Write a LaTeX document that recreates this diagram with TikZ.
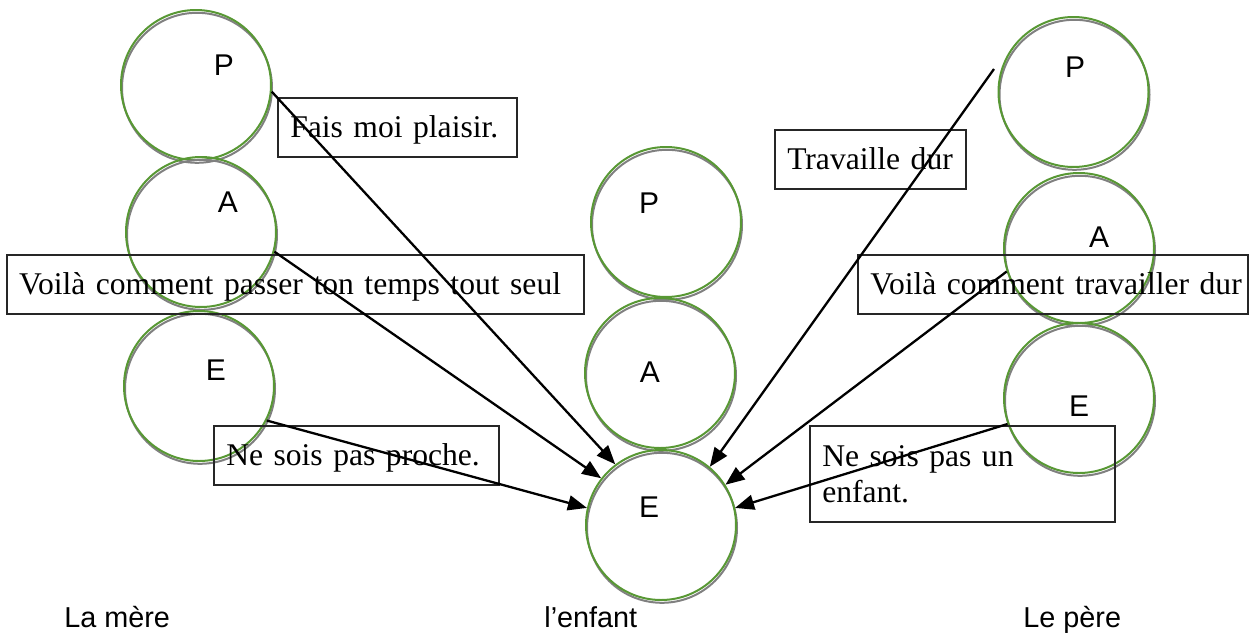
\documentclass[tikz,border=0pt]{standalone}
\usepackage{fontspec}
\setmainfont{Liberation Serif}
\newfontfamily\arialfont{Liberation Sans}
\usetikzlibrary{arrows.meta}

\definecolor{ringgreen}{RGB}{88,152,52}
\definecolor{ringgray}{RGB}{128,128,128}

\tikzset{
  ring/.style={circle, draw=ringgreen, line width=1pt, minimum size=75pt, inner sep=0pt},
  ringshadow/.style={draw=ringgray, line width=1pt},
  egoletter/.style={font=\arialfont\fontsize{15}{18}\selectfont, inner sep=0pt},
  msg/.style={draw=black!85, line width=0.75pt, anchor=north west, align=left,
    font=\fontsize{15.8}{18}\selectfont, inner xsep=6.25pt, inner ysep=0pt,
    minimum height=29.5pt, text height=10.5pt, text depth=0pt},
  who/.style={font=\arialfont\fontsize{14.4}{17}\selectfont, anchor=base west, inner sep=0pt},
  msgarrow/.style={line width=1.15pt, -{Triangle[length=9.5pt,width=7.5pt]}},
}

% ego state circle: name, centre, letter, letter position
\newcommand\egostate[4]{%
  \draw[ringshadow] (#2) ++(0.5pt,-1.4pt) circle[radius=37.5pt];
  \node[ring] (#1) at (#2) {};
  \node[egoletter] (#1-l) at (#4) {#3};
}

\begin{document}
\begin{tikzpicture}[x=0.5pt, y=-0.5pt]
\useasboundingbox (0,0) rectangle (1249,633);

% the mother
\egostate{mP}{196,85}{P}{224,65}
\egostate{mA}{201,232}{A}{228,202}
\egostate{mE}{199,386}{E}{216,370}

% the child
\egostate{cP}{666,222}{P}{649,203}
\egostate{cA}{660,373}{A}{650,372}
\egostate{cE}{661,525}{E}{649,507}

% the father
\egostate{fP}{1073.5,92}{P}{1075,67}
\egostate{fA}{1079,248}{A}{1099,237}
\egostate{fE}{1079,398}{E}{1079,406}

% messages
\node[msg, text width=107pt] (m1) at (277,97) {\mbox{Fais moi plaisir.}};
\node[msg, text width=276pt] (m2) at (6,254)
  {\makebox[279pt][s]{Voilà comment passer ton temps tout seul}};
\node[msg, text width=130pt] (m3) at (213,425) {\mbox{Ne sois pas proche.}};
\node[msg, text width=83pt] (f1) at (774,129) {\mbox{Travaille dur}};
\node[msg, text width=182.5pt] (f2) at (857,254) {\mbox{Voilà comment travailler dur}};
\node[msg, text width=140pt, inner ysep=9.75pt, minimum height=0pt,
      text depth=18pt] (f3) at (809,425) {Ne sois pas un\\enfant.};

% injunctions towards the child
\coordinate (fPout) at (994,69);
\draw[msgarrow] (mP.-5) -- (cE.127);
\draw[msgarrow] (mA.-15.5) -- (cE.142.7);
\draw[msgarrow] (mE.-27.3) -- (cE.167.9);
\draw[msgarrow] (fPout) -- (cE.50.1);
\draw[msgarrow] (fA.198.2) -- (cE.32.4);
\draw[msgarrow] (fE.200.6) -- (cE.13.1);

% captions
\node[who] (lm) at (64,627) {La mère};
\node[who] (le) at (544,627) {l’enfant};
\node[who] (lp) at (1023,627) {Le père};
\end{tikzpicture}
\end{document}
